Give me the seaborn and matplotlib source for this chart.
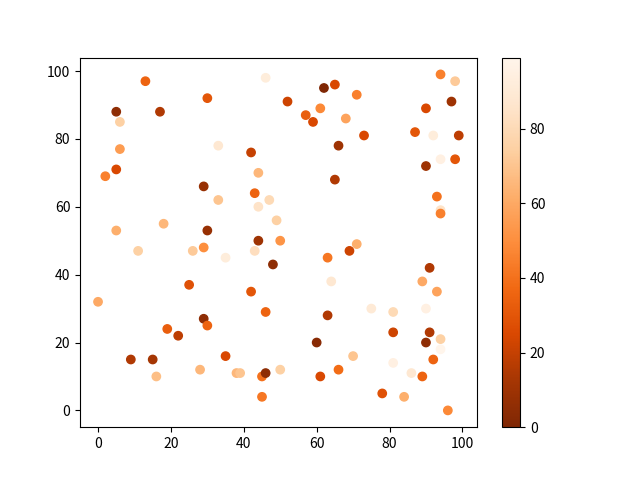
import numpy as np
import pandas as pd
import matplotlib
matplotlib.use('Agg')
import matplotlib.pyplot as plt
import seaborn as sns

plt.rcParams['font.family'] = ['Noto Sans CJK SC', 'DejaVu Sans']

# Data (x, y, colour value)
x = [94, 94, 0, 2, 5, 5, 5, 6, 6, 9, 11, 13, 15, 16, 17, 18, 19, 22, 25, 26, 28, 29,
     29, 29, 30, 30, 30, 33, 33, 35, 35, 38, 39, 42, 42, 43, 43, 44, 44, 44, 45, 45,
     46, 46, 46, 47, 48, 49, 50, 50, 52, 57, 59, 61, 62, 63, 63, 64, 60, 61, 65, 65,
     66, 66, 68, 69, 70, 71, 71, 73, 75, 78, 81, 81, 81, 84, 86, 87, 89, 89, 90, 90,
     90, 90, 91, 91, 92, 92, 93, 93, 94, 94, 94, 94, 96, 97, 98, 98, 99]
y = [59, 18, 32, 69, 88, 71, 53, 85, 77, 15, 47, 97, 15, 10, 88, 55, 24, 22, 37, 47, 12, 66,
     48, 27, 92, 53, 25, 78, 62, 45, 16, 11, 11, 76, 35, 64, 47, 70, 60, 50, 10, 4,
     11, 29, 98, 62, 43, 56, 50, 12, 91, 87, 85, 89, 95, 45, 28, 38, 20, 10, 96, 68,
     78, 12, 86, 47, 16, 93, 49, 81, 30, 5, 29, 23, 14, 4, 11, 82, 38, 10, 89, 72,
     30, 20, 42, 23, 81, 15, 63, 35, 99, 74, 58, 21, 0, 91, 97, 74, 81]
c = [85, 99, 60, 45, 5, 25, 62, 75, 55, 15, 75, 35, 12, 68, 15, 65, 33, 18, 28, 72, 65, 8,
     50, 5, 30, 8, 35, 88, 70, 92, 25, 65, 70, 20, 30, 35, 82, 65, 85, 10, 40, 42,
     5, 35, 92, 80, 5, 75, 52, 75, 22, 33, 25, 48, 0, 42, 15, 88, 3, 25, 25, 15,
     10, 38, 58, 22, 70, 45, 62, 25, 90, 28, 80, 22, 95, 62, 88, 30, 60, 35, 25, 10,
     95, 5, 15, 15, 92, 35, 40, 58, 45, 95, 45, 75, 48, 10, 72, 30, 18]

df = pd.DataFrame({'x': x, 'y': y, 'c': c})

fig, ax = plt.subplots(figsize=(6.4, 4.8), dpi=100)
norm = plt.Normalize(min(c), max(c))
sns.scatterplot(data=df, x='x', y='y', hue='c', palette='Oranges_r', hue_norm=norm,
                s=36, linewidth=1, edgecolor='face', legend=False, ax=ax)
ax.set_xlabel('')
ax.set_ylabel('')

sm = plt.cm.ScalarMappable(cmap='Oranges_r', norm=norm)
sm.set_array([])
fig.colorbar(sm, ax=ax)

plt.savefig('out.png')
